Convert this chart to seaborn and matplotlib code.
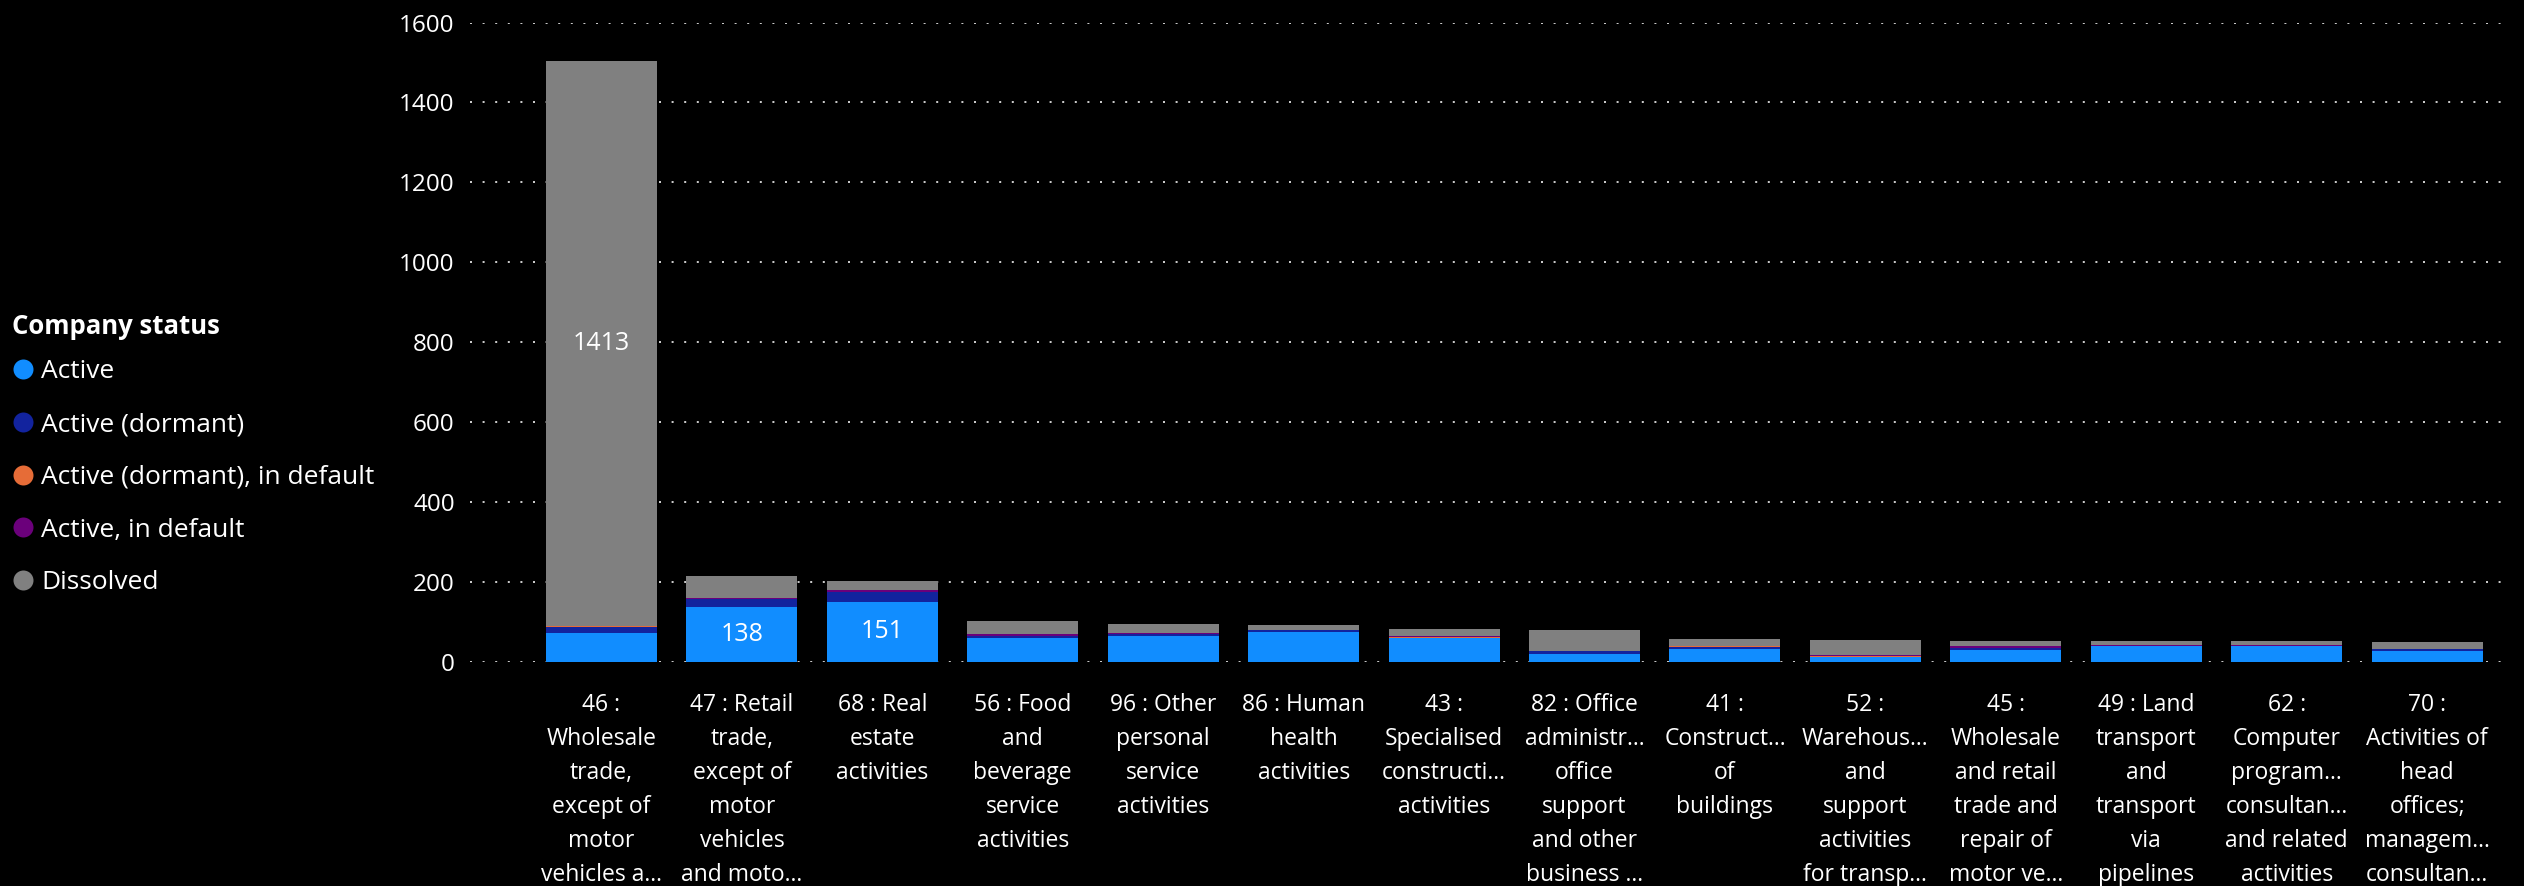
import numpy as np
import pandas as pd
import seaborn as sns
import matplotlib.pyplot as plt
from matplotlib.lines import Line2D

# SIC division codes, in the order of the chart (largest total first)
categories = ['46', '47', '68', '56', '96', '86', '43', '82', '41', '52', '45', '49', '62', '70']
tick_labels = [
    '46 :\nWholesale\ntrade,\nexcept of\nmotor\nvehicles a...',
    '47 : Retail\ntrade,\nexcept of\nmotor\nvehicles\nand moto...',
    '68 : Real\nestate\nactivities',
    '56 : Food\nand\nbeverage\nservice\nactivities',
    '96 : Other\npersonal\nservice\nactivities',
    '86 : Human\nhealth\nactivities',
    '43 :\nSpecialised\nconstructi...\nactivities',
    '82 : Office\nadministr...\noffice\nsupport\nand other\nbusiness ...',
    '41 :\nConstruct...\nof\nbuildings',
    '52 :\nWarehous...\nand\nsupport\nactivities\nfor transp...',
    '45 :\nWholesale\nand retail\ntrade and\nrepair of\nmotor ve...',
    '49 : Land\ntransport\nand\ntransport\nvia\npipelines',
    '62 :\nComputer\nprogram...\nconsultan...\nand related\nactivities',
    '70 :\nActivities of\nhead\noffices;\nmanagem...\nconsultan...',
]

active = [72, 138, 151, 60, 66, 75, 61, 21, 33, 12, 31, 41, 41, 28]
active_dormant = [15, 20, 24, 5, 4, 5, 0, 7, 5, 1, 4, 0, 0, 5]
active_dormant_default = [2, 0, 0, 0, 0, 0, 2, 0, 3, 3, 0, 0, 0, 0]
active_default = [1, 2, 5, 5, 3, 0, 2, 0, 0, 2, 6, 2, 2, 0]
dissolved = [1413, 54, 22, 32, 22, 13, 18, 52, 17, 37, 12, 10, 10, 17]

statuses = ['Active', 'Active (dormant)', 'Active (dormant), in default',
            'Active, in default', 'Dissolved']
colors = ['#118DFF', '#12239E', '#E66C37', '#6B007B', '#808080']

df = pd.DataFrame({'code': categories,
                   'Active': active,
                   'Active (dormant)': active_dormant,
                   'Active (dormant), in default': active_dormant_default,
                   'Active, in default': active_default,
                   'Dissolved': dissolved})
cum = df[statuses].cumsum(axis=1)

sns.set_theme(style='dark')
plt.rcParams['font.family'] = ['Open Sans', 'DejaVu Sans']

W, H = 2524, 886
fig = plt.figure(figsize=(W / 100, H / 100), dpi=100, facecolor='black')
ax = fig.add_axes([470 / W, 1 - 662 / H, (2503 - 470) / W, (662 - 22.5) / H])
ax.set_facecolor('black')

# stacked bars: draw cumulative totals from the top segment down
for status, color in reversed(list(zip(statuses, colors))):
    sns.barplot(x=df['code'], y=cum[status], order=categories, color=color,
                width=0.79, saturation=1, errorbar=None, linewidth=0, ax=ax)

# data labels only where the segment is big enough
for status in statuses:
    base = cum[status] - df[status]
    for i, v in enumerate(df[status]):
        if v >= 100:
            ax.text(i, base[i] + v / 2, str(v), ha='center', va='center',
                    color='white', fontsize=18)

ax.set_ylim(0, 1600)
ax.set_xlim(-0.936, 13.54)
ax.set_yticks(range(0, 1601, 200))
ax.set_xticks(range(len(categories)))
ax.set_xticklabels(tick_labels, fontsize=16.5, color='white', linespacing=1.565)
ax.tick_params(axis='y', labelsize=17.5, labelcolor='white', length=0, pad=11)
ax.tick_params(axis='x', length=0, pad=22)
ax.set_xlabel('')
ax.set_ylabel('')
for s in ax.spines.values():
    s.set_visible(False)
ax.grid(False)
ax.yaxis.grid(True, color='#C8C8C8', linestyle=(0, (1, 5.3)), linewidth=1.44)
ax.set_axisbelow(True)

handles = [Line2D([0], [0], marker='o', linestyle='', markersize=14.4,
                  markerfacecolor=c, markeredgewidth=0) for c in colors]
leg = fig.legend(handles, statuses, loc='upper left',
                 bbox_to_anchor=(12 / W, 1 - 313 / H), frameon=False,
                 title='Company status', alignment='left', fontsize=19,
                 title_fontproperties={'weight': 'bold', 'size': 18.5},
                 labelcolor='white', handlelength=0.8, handletextpad=0.3,
                 labelspacing=1.05, borderpad=0, borderaxespad=0)
leg.get_title().set_color('white')
# tighter gap between the title and the first entry
leg._legend_box.sep = 14

fig.savefig('out.png', dpi=100, facecolor='black')
